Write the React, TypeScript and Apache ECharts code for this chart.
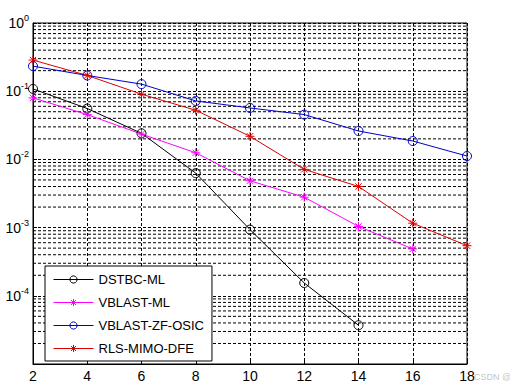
import React, { useEffect, useRef } from "react";
import * as echarts from "echarts";

const snr = [2, 4, 6, 8, 10, 12, 14, 16, 18];
const dstbcMl = [0.108, 0.0557, 0.0241, 0.00629, 0.000935, 0.000154, 0.000037];
const vblastMl = [0.0797, 0.0454, 0.0235, 0.0125, 0.00486, 0.00279, 0.00104, 0.000486];
const vblastZf = [0.233, 0.17, 0.127, 0.072, 0.0568, 0.0454, 0.0261, 0.0186, 0.0112];
const rlsDfe = [0.286, 0.17, 0.0904, 0.0526, 0.0218, 0.00713, 0.00401, 0.00116, 0.000543];
const xTicks = [2, 4, 6, 8, 10, 12, 14, 16, 18];
const decades = [-5, -4, -3, -2, -1];
const minorMultipliers = [2, 3, 4, 5, 6, 7, 8, 9];

const FONT = "Liberation Sans, Arial, sans-serif";
const STAR = "path://M0,5L10,5M5,0L5,10M1.5,1.5L8.5,8.5M1.5,8.5L8.5,1.5";
const NAMES = ["DSTBC-ML", "VBLAST-ML", "VBLAST-ZF-OSIC", "RLS-MIMO-DFE"];

function pairs(vals: number[]) {
  return vals.map((v, i) => [snr[i], v]);
}

function mkSeries(name: string, vals: number[], color: string, symbol: string) {
  return {
    name,
    type: "line",
    data: pairs(vals),
    symbol,
    symbolSize: 9,
    showSymbol: true,
    z: 5,
    lineStyle: { color, width: 1 },
    itemStyle: { color: symbol === "circle" ? "none" : color, borderColor: color, borderWidth: 1 },
    emphasis: { disabled: true },
  };
}

export default function App() {
  const ref = useRef<HTMLDivElement>(null);
  useEffect(() => {
    document.body.style.margin = "0";
    if (!ref.current) return;
    const chart = echarts.init(ref.current, null, { renderer: "svg" });
    const gridSeries: any[] = [];
    decades.forEach((d) => {
      minorMultipliers.forEach((m) => {
        const v = m * Math.pow(10, d);
        gridSeries.push({
          name: "g" + d + "_" + m,
          type: "line",
          data: [
            [xTicks[0], v],
            [xTicks[xTicks.length - 1], v],
          ],
          symbol: "none",
          silent: true,
          z: 1,
          lineStyle: { color: "#000", type: [3, 2], width: 1 },
          emphasis: { disabled: true },
          tooltip: { show: false },
        });
      });
    });
    chart.setOption({
      animation: false,
      backgroundColor: "#fff",
      grid: {
        left: 33,
        top: 23,
        right: 43,
        bottom: 20,
        show: true,
        borderColor: "#000",
        borderWidth: 1,
        backgroundColor: "#fff",
      },
      xAxis: {
        type: "value",
        min: 2,
        max: 18,
        interval: 2,
        axisLine: { lineStyle: { color: "#000", width: 1 } },
        axisTick: { inside: true, length: 4, lineStyle: { color: "#000" } },
        axisLabel: {
          color: "#000",
          fontSize: 14,
          fontFamily: FONT,
          margin: 5,
          formatter: (v: number) => (xTicks.includes(v) ? String(v) : ""),
        },
        splitLine: { show: true, lineStyle: { color: "#000", type: [3, 2], width: 1 } },
      },
      yAxis: {
        type: "log",
        logBase: 10,
        min: 1e-5,
        max: 1,
        splitNumber: 5,
        axisLine: { show: true, lineStyle: { color: "#000", width: 1 } },
        axisTick: { inside: true, length: 4, lineStyle: { color: "#000" } },
        axisLabel: {
          color: "#000",
          fontFamily: FONT,
          margin: 4,
          formatter: (v: number) => {
            const e = Math.round(Math.log10(v));
            if (e === -5) return "";
            return `{b|10}{e|${e}}`;
          },
          rich: {
            b: { fontSize: 14, fontFamily: FONT, color: "#000" },
            e: { fontSize: 9, fontFamily: FONT, color: "#000", padding: [0, 0, 10, 0] },
          },
        },
        splitLine: { show: true, lineStyle: { color: "#000", type: [3, 2], width: 1 } },
      },
      legend: {
        orient: "vertical",
        left: 45,
        top: 266,
        itemWidth: 40,
        itemHeight: 9,
        itemGap: 10,
        padding: [7, 8, 6, 8],
        borderColor: "#000",
        borderWidth: 1,
        backgroundColor: "#fff",
        lineStyle: { width: 1 },
        itemStyle: { borderWidth: 1 },
        textStyle: { fontSize: 13, fontFamily: FONT, color: "#000" },
        data: NAMES,
      },
      graphic: [
        {
          type: "text",
          left: 474,
          top: 372,
          silent: true,
          style: { text: "CSDN @", fontSize: 9, fontFamily: FONT, fill: "rgba(170,170,170,0.7)" },
        },
      ],
      series: [
        ...gridSeries,
        mkSeries(NAMES[0], dstbcMl, "#000000", "circle"),
        mkSeries(NAMES[1], vblastMl, "#ff00ff", STAR),
        mkSeries(NAMES[2], vblastZf, "#0000cc", "circle"),
        mkSeries(NAMES[3], rlsDfe, "#dd0000", STAR),
      ],
    });
    return () => chart.dispose();
  }, []);
  return <div ref={ref} style={{ width: 510, height: 384 }} />;
}
